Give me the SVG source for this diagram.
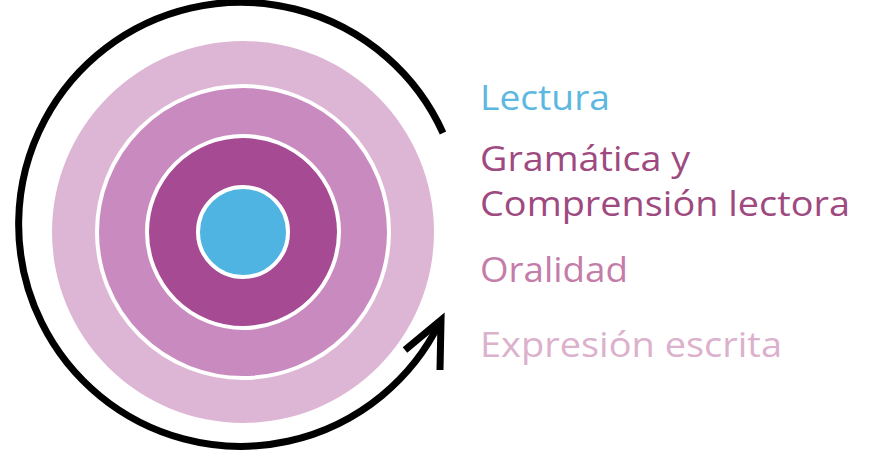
<svg xmlns="http://www.w3.org/2000/svg" width="869" height="463" viewBox="0 0 869 463">
  <style>
    .ring { stroke: #ffffff; stroke-width: 4; }
    .lbl { font-family: "Open Sans", "Noto Sans", sans-serif; font-size: 34px; font-weight: 400; }
    .arrow { fill: none; stroke: #000000; stroke-width: 7; }
  </style>
  <rect width="869" height="463" fill="#ffffff"/>
  <g id="ring-expresion">
    <circle cx="243" cy="232" r="191" fill="#deb6d5"/>
  </g>
  <g id="ring-oralidad">
    <circle class="ring" cx="243" cy="232" r="146" fill="#c98bbf"/>
  </g>
  <g id="ring-gramatica">
    <circle class="ring" cx="243" cy="232" r="96" fill="#a54a93"/>
  </g>
  <g id="ring-lectura">
    <circle class="ring" cx="243" cy="232" r="45" fill="#4fb4e2" stroke-width="3"/>
  </g>
  <g id="connectors">
    <path class="arrow" d="M 443 133 A 222 222 0 1 0 440 322"/>
    <polyline class="arrow" stroke-linejoin="miter" points="405,350 441,320 440,370"/>
  </g>
  <g id="label-lectura">
    <text class="lbl" x="480" y="110" fill="#5cb8e0" textLength="130" lengthAdjust="spacingAndGlyphs">Lectura</text>
  </g>
  <g id="label-gramatica">
    <text class="lbl" x="480" y="171" fill="#9e4a80" textLength="210" lengthAdjust="spacingAndGlyphs">Gramática y</text>
    <text class="lbl" x="480" y="216" fill="#9e4a80" textLength="370" lengthAdjust="spacingAndGlyphs">Comprensión lectora</text>
  </g>
  <g id="label-oralidad">
    <text class="lbl" x="480" y="282" fill="#c47ca9" textLength="148" lengthAdjust="spacingAndGlyphs">Oralidad</text>
  </g>
  <g id="label-expresion">
    <text class="lbl" x="480" y="357" fill="#dcb1cc" textLength="302" lengthAdjust="spacingAndGlyphs">Expresión escrita</text>
  </g>
</svg>
